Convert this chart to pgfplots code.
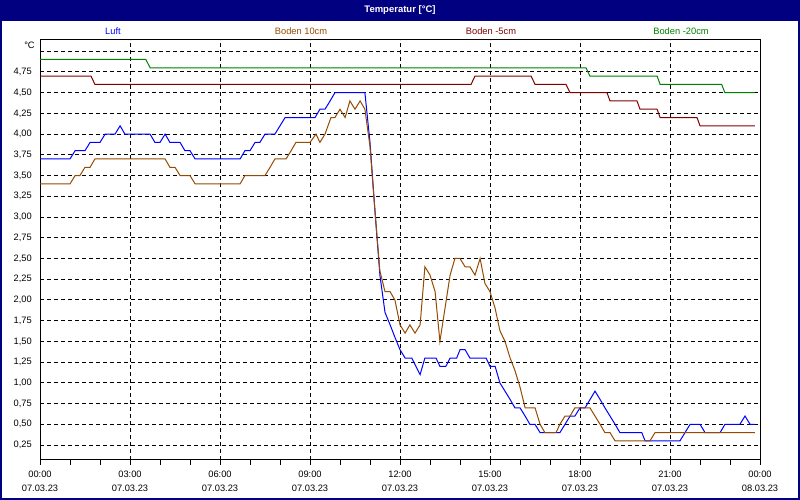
\documentclass[border=0pt]{standalone}
\usepackage{pgfplots}
\pgfplotsset{compat=1.18}
\usepackage{fontspec}
\setmainfont{Liberation Sans}
\definecolor{titlebar}{RGB}{0,0,128}
\definecolor{luft}{RGB}{0,0,255}
\definecolor{boden10}{RGB}{150,75,0}
\definecolor{boden5}{RGB}{128,0,0}
\definecolor{boden20}{RGB}{0,128,0}
\begin{document}
\fontsize{9.3}{11}\selectfont
\begin{tikzpicture}[x=1pt,y=1pt]
\useasboundingbox (0,0) rectangle (800,500);
% window frame and title bar
\fill[titlebar] (0,0) rectangle (800,500);
\fill[white] (2,2) rectangle (798,479);
\node[white,font=\bfseries\fontsize{9.5}{11}\selectfont] at (400,490) {Temperatur [°C]};
% series names
\node[luft] at (113,469) {Luft};
\node[boden10] at (301,469) {Boden 10cm};
\node[boden5] at (491,469) {Boden -5cm};
\node[boden20] at (681,469) {Boden -20cm};
\node[anchor=east] at (38,455) {°C};
\begin{axis}[
    at={(40pt,40pt)}, anchor=south west,
    scale only axis, width=720pt, height=420pt,
    xmin=0, xmax=24, ymin=0.07, ymax=5.135,
    axis line style={black, line width=1pt},
    xtick={0,3,...,24},
    minor x tick num=2,
    xtick pos=bottom,
    tick align=outside,
    major tick length=5pt, minor tick length=5pt,
    tick style={black, line width=1pt},
    xticklabels={{00:00\\07.03.23},{03:00\\07.03.23},{06:00\\07.03.23},{09:00\\07.03.23},{12:00\\07.03.23},{15:00\\07.03.23},{18:00\\07.03.23},{21:00\\07.03.23},{00:00\\08.03.23}},
    xticklabel style={align=center, yshift=-3pt, font=\fontsize{9.3}{14}\selectfont},
    ytick={0.25,0.5,...,5.0},
    yticklabels={{0,25},{0,50},{0,75},{1,00},{1,25},{1,50},{1,75},{2,00},{2,25},{2,50},{2,75},{3,00},{3,25},{3,50},{3,75},{4,00},{4,25},{4,50},{4,75},{}},
    ytick style={draw=none},
    ytick pos=left,
    yticklabel style={font=\fontsize{9.3}{11}\selectfont},
    grid=major,
    major grid style={black, line width=1pt, dash pattern=on 4pt off 3pt},
    every axis plot/.append style={line width=1pt, mark=none, sharp plot},
]
% Luft
\addplot[luft] coordinates {
(0,3.7) (1.0,3.7) (1.17,3.8) (1.5,3.8) (1.67,3.9) (2.0,3.9) (2.17,4.0) (2.5,4.0)
(2.67,4.1) (2.83,4.0) (3.67,4.0) (3.83,3.9) (4.0,3.9) (4.17,4.0) (4.33,3.9) (4.67,3.9)
(4.83,3.8) (5.0,3.8) (5.17,3.7) (6.67,3.7) (6.83,3.8) (7.0,3.8) (7.17,3.9) (7.33,3.9)
(7.5,4.0) (7.83,4.0) (8.0,4.1) (8.17,4.2) (9.17,4.2) (9.33,4.3) (9.5,4.3) (9.67,4.4)
(9.83,4.5) (10.83,4.5) (11.0,3.9) (11.17,3.05) (11.33,2.3) (11.5,1.85) (11.67,1.7)
(11.83,1.55) (12.0,1.4) (12.17,1.3) (12.39,1.3) (12.67,1.1) (12.83,1.3) (13.2,1.3)
(13.33,1.2) (13.53,1.2) (13.67,1.3) (13.89,1.3) (14.0,1.4) (14.17,1.4) (14.33,1.3)
(14.87,1.3) (15.0,1.2) (15.17,1.2) (15.33,1.0) (15.5,0.9) (15.67,0.8) (15.83,0.7)
(16.0,0.7) (16.17,0.6) (16.33,0.5) (16.5,0.5) (16.67,0.4) (17.33,0.4) (17.5,0.5)
(17.67,0.6) (17.83,0.6) (18.0,0.7) (18.17,0.7) (18.5,0.9) (18.67,0.8) (18.83,0.7)
(19.0,0.6) (19.17,0.5) (19.33,0.4) (20.06,0.4) (20.17,0.3) (21.33,0.3) (21.5,0.4)
(21.67,0.5) (22.0,0.5) (22.17,0.4) (22.67,0.4) (22.83,0.5) (23.33,0.5) (23.5,0.6)
(23.67,0.5) (23.83,0.5)
};
% Boden 10cm
\addplot[boden10] coordinates {
(0,3.4) (1.0,3.4) (1.17,3.5) (1.33,3.5) (1.5,3.6) (1.67,3.6) (1.83,3.7) (4.17,3.7)
(4.33,3.6) (4.5,3.6) (4.67,3.5) (5.0,3.5) (5.17,3.4) (6.67,3.4) (6.83,3.5) (7.5,3.5)
(7.67,3.6) (7.83,3.7) (8.2,3.7) (8.37,3.8) (8.53,3.9) (9.0,3.9) (9.2,4.0) (9.33,3.9)
(9.5,4.0) (9.7,4.2) (9.83,4.2) (10.0,4.3) (10.17,4.2) (10.33,4.4) (10.5,4.3)
(10.67,4.4) (10.83,4.3) (11.0,3.85) (11.17,3.05) (11.33,2.35) (11.5,2.1) (11.67,2.1)
(11.83,2.0) (12.0,1.7) (12.17,1.6) (12.33,1.7) (12.5,1.6) (12.67,1.7) (12.83,2.4)
(13.0,2.3) (13.17,2.1) (13.33,1.5) (13.5,1.9) (13.67,2.3) (13.83,2.5) (14.0,2.5)
(14.17,2.4) (14.33,2.4) (14.5,2.3) (14.67,2.5) (14.83,2.2) (15.0,2.1) (15.17,1.9)
(15.33,1.63) (15.5,1.5) (15.67,1.3) (15.83,1.15) (16.0,0.95) (16.17,0.7) (16.5,0.7)
(16.67,0.5) (16.83,0.4) (17.2,0.4) (17.33,0.5) (17.5,0.6) (17.67,0.6) (17.83,0.7)
(18.33,0.7) (18.5,0.6) (18.67,0.5) (18.83,0.4) (19.0,0.4) (19.17,0.3) (20.33,0.3)
(20.5,0.4) (23.83,0.4)
};
% Boden -5cm
\addplot[boden5] coordinates {
(0,4.7) (1.7,4.7) (1.83,4.6) (14.37,4.6) (14.5,4.7) (16.37,4.7) (16.5,4.6)
(17.53,4.6) (17.67,4.5) (18.9,4.5) (19.0,4.4) (19.9,4.4) (20.0,4.3) (20.57,4.3)
(20.67,4.2) (21.9,4.2) (22.0,4.1) (23.83,4.1)
};
% Boden -20cm
\addplot[boden20] coordinates {
(0,4.9) (3.53,4.9) (3.67,4.8) (18.2,4.8) (18.33,4.7) (20.57,4.7) (20.67,4.6)
(22.72,4.6) (22.83,4.5) (23.83,4.5)
};
\end{axis}
\end{tikzpicture}
\end{document}
